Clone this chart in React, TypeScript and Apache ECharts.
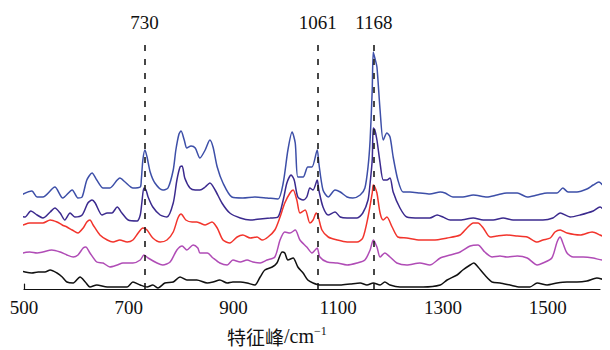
import React, { useEffect, useRef } from 'react';
import * as echarts from 'echarts';

// Raman shift tick labels and marked peaks (cm-1)
const tickValues = [500, 700, 900, 1100, 1300, 1500];
const peakPositions = [730, 1061, 1168];

// Spectra: [wavenumber, intensity (a.u., stacked offsets)]
const spectrumBlue: [number, number][] = [
  [487, 92], [515, 98], [525, 92], [536, 92], [559, 102], [574, 91], [592, 99], [603, 91], [611, 92],
  [620, 109], [630, 116], [639, 109], [651, 101], [664, 101], [678, 109], [683, 111], [693, 107],
  [708, 101], [722, 102], [724, 109], [727, 129], [731, 139], [735, 132], [741, 117], [750, 106],
  [765, 99], [775, 101], [785, 119], [790, 139], [796, 155], [800, 158], [806, 149], [811, 141],
  [819, 143], [827, 141], [836, 131], [846, 139], [855, 149], [861, 142], [869, 122], [880, 106],
  [897, 92], [918, 91], [941, 92], [964, 91], [985, 90], [995, 106], [1004, 139], [1012, 157],
  [1018, 146], [1023, 112], [1033, 112], [1042, 122], [1050, 122], [1060, 139], [1063, 126],
  [1071, 99], [1081, 92], [1094, 99], [1104, 97], [1117, 92], [1128, 91], [1142, 94], [1151, 101],
  [1157, 122], [1161, 149], [1165, 199], [1167, 237], [1170, 231], [1174, 222], [1180, 179],
  [1186, 149], [1193, 156], [1199, 152], [1205, 132], [1214, 109], [1224, 97], [1237, 97],
  [1256, 96], [1275, 95], [1295, 97], [1304, 96], [1319, 92], [1338, 92], [1358, 94], [1384, 92],
  [1403, 94], [1422, 96], [1442, 96], [1461, 92], [1480, 94], [1499, 96], [1518, 96], [1529, 101],
  [1539, 97], [1556, 97], [1575, 100], [1587, 104], [1598, 107], [1610, 101], [1619, 97],
];

const spectrumIndigo: [number, number][] = [
  [487, 74], [502, 72], [513, 78], [525, 74], [536, 71], [550, 77], [559, 81], [569, 76], [578, 69],
  [588, 76], [597, 72], [611, 74], [622, 86], [630, 89], [636, 86], [649, 74], [659, 76], [668, 76],
  [678, 82], [687, 76], [699, 69], [716, 68], [722, 74], [725, 86], [729, 101], [733, 99], [737, 92],
  [746, 82], [760, 74], [773, 72], [785, 86], [792, 109], [798, 122], [802, 123], [807, 111],
  [817, 101], [827, 99], [836, 99], [846, 102], [855, 106], [865, 99], [878, 86], [893, 76],
  [913, 71], [932, 69], [951, 70], [970, 71], [985, 72], [995, 89], [1002, 106], [1010, 114],
  [1016, 109], [1023, 92], [1033, 89], [1040, 92], [1046, 101], [1052, 99], [1060, 109], [1063, 99],
  [1071, 82], [1081, 74], [1094, 77], [1104, 72], [1117, 71], [1136, 71], [1147, 76], [1157, 89],
  [1161, 106], [1165, 129], [1167, 161], [1170, 159], [1174, 149], [1180, 126], [1186, 109],
  [1193, 109], [1199, 111], [1205, 97], [1218, 81], [1231, 72], [1256, 71], [1275, 71], [1289, 74],
  [1300, 72], [1314, 69], [1333, 69], [1358, 71], [1377, 69], [1396, 69], [1415, 71], [1434, 69],
  [1453, 69], [1472, 69], [1491, 69], [1510, 71], [1524, 76], [1543, 72], [1562, 74], [1587, 78],
  [1600, 82], [1613, 76], [1619, 74],
];

const spectrumRed: [number, number][] = [
  [487, 62], [498, 64], [511, 66], [525, 66], [536, 66], [550, 69], [563, 67], [573, 64], [582, 62],
  [592, 59], [603, 56], [613, 61], [620, 67], [626, 69], [632, 64], [645, 54], [659, 49], [670, 47],
  [683, 49], [697, 47], [708, 49], [718, 56], [727, 61], [735, 59], [746, 51], [760, 47], [773, 49],
  [785, 57], [794, 71], [800, 75], [809, 69], [821, 67], [830, 67], [836, 66], [846, 64], [859, 67],
  [869, 61], [880, 49], [893, 46], [907, 52], [918, 54], [932, 51], [945, 52], [955, 49], [966, 52],
  [979, 59], [989, 72], [998, 86], [1008, 96], [1014, 99], [1021, 89], [1027, 76], [1037, 79],
  [1046, 66], [1052, 69], [1058, 76], [1062, 72], [1069, 59], [1081, 52], [1098, 49], [1117, 47],
  [1136, 47], [1147, 51], [1157, 72], [1165, 96], [1167, 104], [1170, 102], [1174, 96], [1180, 76],
  [1186, 69], [1193, 72], [1203, 62], [1214, 52], [1231, 51], [1256, 49], [1281, 49], [1308, 51],
  [1333, 54], [1346, 61], [1358, 66], [1367, 66], [1377, 61], [1390, 52], [1403, 53], [1422, 54],
  [1442, 53], [1461, 52], [1480, 47], [1491, 49], [1505, 51], [1514, 57], [1524, 59], [1537, 56],
  [1562, 54], [1585, 57], [1600, 54], [1619, 49],
];

const spectrumPurple: [number, number][] = [
  [487, 32], [498, 36], [511, 37], [525, 36], [536, 37], [553, 39], [569, 37], [582, 34], [594, 32],
  [603, 34], [613, 41], [618, 42], [626, 36], [639, 27], [651, 26], [664, 22], [678, 24], [689, 26],
  [708, 26], [722, 29], [729, 34], [737, 31], [754, 26], [765, 24], [779, 27], [792, 39], [802, 43],
  [811, 39], [823, 44], [832, 41], [836, 36], [850, 36], [861, 31], [874, 26], [888, 24], [899, 29],
  [913, 27], [926, 29], [937, 27], [951, 26], [964, 29], [979, 32], [989, 49], [998, 57], [1008, 56],
  [1018, 59], [1027, 49], [1040, 42], [1050, 36], [1056, 39], [1060, 41], [1065, 32], [1079, 27],
  [1098, 26], [1117, 24], [1136, 26], [1151, 29], [1161, 39], [1167, 49], [1174, 42], [1180, 32],
  [1189, 36], [1199, 32], [1212, 26], [1231, 24], [1256, 26], [1275, 24], [1295, 31], [1314, 34],
  [1333, 37], [1352, 43], [1367, 44], [1380, 37], [1394, 32], [1409, 33], [1422, 32], [1442, 33],
  [1461, 31], [1480, 24], [1491, 26], [1508, 31], [1518, 47], [1524, 52], [1529, 46], [1537, 36],
  [1549, 32], [1568, 32], [1587, 31], [1604, 29], [1619, 31],
];

const spectrumBlack: [number, number][] = [
  [487, 19], [502, 17], [515, 16], [527, 17], [540, 17], [550, 19], [563, 16], [573, 12], [582, 7],
  [594, 6], [607, 12], [617, 7], [626, 2], [639, 4], [659, 2], [683, 2], [697, 2], [708, 7], [722, 4],
  [735, 2], [746, 4], [756, 1], [769, 6], [785, 7], [798, 12], [811, 9], [830, 9], [850, 6], [861, 7],
  [874, 9], [888, 6], [899, 7], [913, 7], [926, 6], [941, 4], [951, 12], [960, 19], [974, 22],
  [983, 26], [993, 37], [998, 36], [1004, 29], [1014, 31], [1023, 22], [1033, 16], [1042, 9],
  [1052, 6], [1065, 4], [1084, 4], [1104, 4], [1123, 5], [1142, 6], [1155, 4], [1167, 6], [1180, 4],
  [1189, 7], [1199, 4], [1218, 2], [1237, 2], [1262, 2], [1295, 4], [1308, 9], [1327, 14], [1338, 19],
  [1352, 24], [1359, 26], [1367, 22], [1380, 14], [1394, 7], [1409, 6], [1428, 4], [1447, 2],
  [1466, 2], [1480, 6], [1499, 4], [1518, 6], [1537, 7], [1556, 7], [1575, 8], [1594, 11], [1610, 9],
  [1619, 8],
];

const SERIF = '"Liberation Serif", "Times New Roman", serif';
const CJK = '"Noto Sans CJK SC", sans-serif';

export default function App() {
  const ref = useRef<HTMLDivElement>(null);

  useEffect(() => {
    document.body.style.margin = '0';
    const chart = echarts.init(ref.current!, null, { renderer: 'svg' });

    const mkLine = (name: string, data: [number, number][], color: string, extra: any = {}) => ({
      name,
      type: 'line',
      data,
      xAxisIndex: 0,
      yAxisIndex: 0,
      showSymbol: false,
      symbol: 'none',
      clip: false,
      silent: true,
      smooth: 0.25,
      lineStyle: { color, width: 1.5 },
      ...extra,
    });

    chart.setOption({
      animation: false,
      backgroundColor: '#ffffff',
      title: {
        text: '{cjk|特征峰}{lat|/cm}{sup|−1}',
        left: 227,
        top: 325,
        padding: 0,
        textStyle: {
          fontWeight: 'normal',
          rich: {
            cjk: { fontFamily: CJK, fontSize: 19, fontWeight: 'normal', color: '#111', lineHeight: 22 },
            lat: { fontFamily: SERIF, fontSize: 20, fontWeight: 'normal', color: '#111', lineHeight: 22 },
            sup: { fontFamily: SERIF, fontSize: 12, fontWeight: 'normal', color: '#111', verticalAlign: 'top', lineHeight: 14 },
          },
        },
      },
      grid: [
        { left: 24, right: 10, top: 37, bottom: 61 },
        { left: 24, right: 10, top: 284, height: 5 },
      ],
      xAxis: [
        {
          type: 'value',
          gridIndex: 0,
          min: 500,
          max: 1600,
          interval: 200,
          axisLine: { show: true, lineStyle: { color: '#111', width: 1.2 } },
          axisTick: { show: false },
          splitLine: { show: false },
          axisLabel: {
            margin: 9,
            fontFamily: SERIF,
            fontSize: 19,
            color: '#111',
            showMaxLabel: false,
            formatter: (v: number) => (tickValues.includes(v) ? String(v) : ''),
          },
        },
        { type: 'value', gridIndex: 1, min: 0, max: 1, show: false },
      ],
      yAxis: [
        { type: 'value', gridIndex: 0, min: 0, max: 252, show: false },
        {
          type: 'value',
          gridIndex: 1,
          min: 0,
          max: 1,
          show: true,
          axisLine: { show: true, lineStyle: { color: '#111', width: 1.2 } },
          axisTick: { show: false },
          axisLabel: { show: false },
          splitLine: { show: false },
        },
      ],
      series: [
        mkLine('s1', spectrumBlue, '#3d4fa8'),
        mkLine('s2', spectrumIndigo, '#3b2a8e'),
        mkLine('s3', spectrumRed, '#f2342c'),
        mkLine('s4', spectrumPurple, '#b04cb6'),
        mkLine('s5', spectrumBlack, '#111111', {
          markLine: {
            silent: true,
            symbol: ['none', 'none'],
            animation: false,
            lineStyle: { color: '#1a1a1a', width: 1.6, type: [6, 8] },
            label: {
              show: true,
              position: 'end',
              distance: 5,
              formatter: (p: any) => String(p.value),
              fontFamily: SERIF,
              fontSize: 19,
              color: '#111',
            },
            emphasis: { disabled: true },
            data: peakPositions.map((p) => ({ xAxis: p })),
          },
        }),
      ],
    });

    return () => chart.dispose();
  }, []);

  return <div ref={ref} style={{ width: 610, height: 350 }} />;
}
